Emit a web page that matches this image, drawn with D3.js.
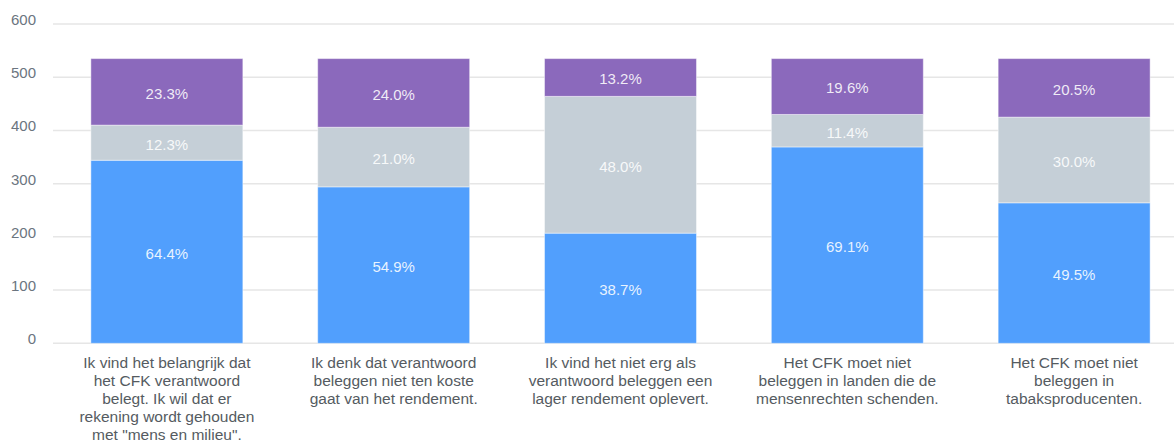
<!DOCTYPE html>
<html>
<head>
<meta charset="utf-8">
<script src="https://cdn.jsdelivr.net/npm/d3@7"></script>
<style>
  html, body { margin: 0; padding: 0; background: #fff; }
  svg { display: block; font-family: "Liberation Sans", Arial, sans-serif; }
</style>
</head>
<body>
<svg id="chart" width="1174" height="443"></svg>
<script>
// ---- data ----
const categories = [
  ["Ik vind het belangrijk dat", "het CFK verantwoord", "belegt. Ik wil dat er", "rekening wordt gehouden", "met \"mens en milieu\"."],
  ["Ik denk dat verantwoord", "beleggen niet ten koste", "gaat van het rendement."],
  ["Ik vind het niet erg als", "verantwoord beleggen een", "lager rendement oplevert."],
  ["Het CFK moet niet", "beleggen in landen die de", "mensenrechten schenden."],
  ["Het CFK moet niet", "beleggen in", "tabaksproducenten."]
];
const seriesNames = ["Eens", "Neutraal", "Oneens"];
const agreeCounts   = [344, 294, 207, 369, 264];
const neutralCounts = [66, 112, 257, 61, 161];
const disagreeCounts= [125, 129, 71, 105, 110];
const agreePct    = ["64.4%", "54.9%", "38.7%", "69.1%", "49.5%"];
const neutralPct  = ["12.3%", "21.0%", "48.0%", "11.4%", "30.0%"];
const disagreePct = ["23.3%", "24.0%", "13.2%", "19.6%", "20.5%"];
const yTicks = [0, 100, 200, 300, 400, 500, 600];
const colors = ["#519ffd", "#c5cfd7", "#8b69bc"];

// ---- chart ----
const svg = d3.select("#chart");
const W = 1174;
const x = d3.scaleBand().domain(d3.range(categories.length))
  .range([53, 1188]).paddingInner(0.33).paddingOuter(0.167);
const y = d3.scaleLinear().domain([0, 600]).range([343.3, 24]);

// gridlines
svg.append("g").selectAll("line").data(yTicks).join("line")
  .attr("x1", 53).attr("x2", W)
  .attr("y1", d => y(d)).attr("y2", d => y(d))
  .attr("stroke", "#e6e6e6").attr("stroke-width", 1.5);

// y tick labels
svg.append("g").selectAll("text").data(yTicks).join("text")
  .attr("x", 36).attr("y", d => y(d) - 3)
  .attr("text-anchor", "end").attr("dominant-baseline", "middle")
  .attr("fill", "#6b7580").attr("font-size", 15)
  .text(d => d);

// stacked data
const rows = categories.map((c, i) => ({ i, a: agreeCounts[i], n: neutralCounts[i], d: disagreeCounts[i] }));
const stack = d3.stack().keys(["a", "n", "d"])(rows);
const pctArrays = [agreePct, neutralPct, disagreePct];

const layers = svg.append("g").selectAll("g").data(stack).join("g")
  .attr("fill", (d, k) => colors[k]);
layers.selectAll("rect").data(d => d).join("rect")
  .attr("x", d => x(d.data.i))
  .attr("width", x.bandwidth())
  .attr("y", d => y(d[1]))
  .attr("height", d => y(d[0]) - y(d[1]))
  .attr("stroke", "rgba(255,255,255,0.45)").attr("stroke-width", 1);

// segment labels
stack.forEach((layer, k) => {
  svg.append("g").selectAll("text").data(layer).join("text")
    .attr("x", d => x(d.data.i) + x.bandwidth() / 2)
    .attr("y", d => (y(d[0]) + y(d[1])) / 2 + 3)
    .attr("text-anchor", "middle").attr("dominant-baseline", "middle")
    .attr("fill", "rgba(255,255,255,0.88)").attr("font-size", 15)
    .text(d => pctArrays[k][d.data.i]);
});

// category labels
const cat = svg.append("g").selectAll("text").data(categories).join("text")
  .attr("text-anchor", "middle")
  .attr("fill", "#555b61").attr("font-size", 15.5);
cat.each(function(lines, i) {
  d3.select(this).selectAll("tspan").data(lines).join("tspan")
    .attr("x", x(i) + x.bandwidth() / 2)
    .attr("y", (d, j) => 368 + j * 18)
    .text(d => d);
});
</script>
</body>
</html>
